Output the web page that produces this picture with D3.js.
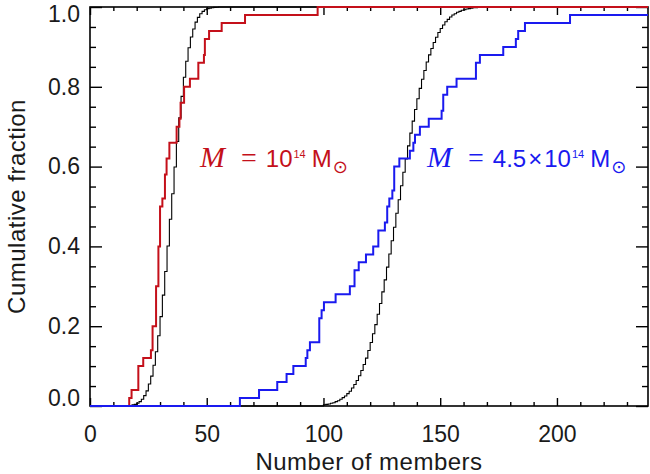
<!DOCTYPE html>
<html>
<head>
<meta charset="utf-8">
<script src="https://cdn.jsdelivr.net/npm/d3@7"></script>
<style>
  body { margin: 0; background: #fff; }
  svg { display: block; }
  text { font-family: "Liberation Sans", Arial, sans-serif; fill: #1a1a1a; }
</style>
</head>
<body>
<div id="chart"></div>
<script>
// ===== DATA =====

// observed cluster, M = 1e14 Msun : step positions and cumulative fraction
const redMembers  = [16.8, 17.8, 20.7, 22.8, 26.1, 26.8, 28.3, 29.3, 30, 31, 32.1, 32.8, 34,
                     37.1, 38.3, 38.8, 40.3, 42.8, 46.4, 48.8, 49.2, 51, 56.4, 66.4, 97.5];
const redFraction = [0.02, 0.04, 0.10, 0.12, 0.14, 0.20, 0.30, 0.40, 0.50, 0.52, 0.58, 0.62, 0.66,
                     0.70, 0.72, 0.76, 0.80, 0.82, 0.86, 0.88, 0.92, 0.94, 0.96, 0.98, 1.00];

// observed cluster, M = 4.5e14 Msun
const blueMembers  = [64.2, 72.4, 80.2, 84.2, 87.1, 92.4, 93.1, 94.2, 98.2, 99.2, 100.2, 105.2,
                      111.3, 113.3, 115.1, 118.2, 121.3, 123.5, 126.3, 127.3, 128.2, 129.5, 130.3,
                      132.5, 137, 138.5, 139.2, 141.3, 145.1, 150.6, 151.3, 153, 157, 165.3, 167,
                      177, 182.4, 183.4, 186.3, 205.6];
const blueFraction = [0.02, 0.04, 0.06, 0.08, 0.10, 0.12, 0.14, 0.16, 0.22, 0.24, 0.26, 0.28,
                      0.30, 0.34, 0.36, 0.38, 0.40, 0.44, 0.46, 0.50, 0.52, 0.54, 0.60,
                      0.62, 0.64, 0.66, 0.68, 0.70, 0.72, 0.74, 0.78, 0.80, 0.82, 0.86, 0.88,
                      0.90, 0.92, 0.94, 0.96, 0.98];

// model curves (thin black), one step per member
const modelLowMembers  = [18, 19, 20, 21, 22, 23, 24, 25, 26, 27, 28, 29, 30, 31, 32, 33, 34, 35,
                          36, 37, 38, 39, 40, 41, 42, 43, 44, 45, 46, 47, 48, 49, 50, 51, 52, 53, 54, 55];
const modelLowFraction = [0.003, 0.004, 0.007, 0.011, 0.017, 0.026, 0.038, 0.055, 0.075, 0.102,
                          0.136, 0.176, 0.224, 0.278, 0.337, 0.401, 0.468, 0.532, 0.599, 0.663,
                          0.722, 0.776, 0.824, 0.864, 0.898, 0.925, 0.945, 0.962, 0.974, 0.983,
                          0.989, 0.993, 0.996, 0.997, 0.998, 0.999, 0.9995, 1.0];

const modelHighMembers  = [100, 101, 102, 103, 104, 105, 106, 107, 108, 109, 110, 111, 112, 113,
                           114, 115, 116, 117, 118, 119, 120, 121, 122, 123, 124, 125, 126, 127,
                           128, 129, 130, 131, 132, 133, 134, 135, 136, 137, 138, 139, 140, 141,
                           142, 143, 144, 145, 146, 147, 148, 149, 150, 151, 152, 153, 154, 155,
                           156, 157, 158, 159, 160, 161, 162, 163, 164, 165, 166, 167, 168, 169,
                           170, 172];
const modelHighFraction = [0.003, 0.004, 0.005, 0.007, 0.008, 0.011, 0.013, 0.017, 0.021, 0.025,
                           0.031, 0.037, 0.045, 0.054, 0.064, 0.076, 0.089, 0.104, 0.120, 0.139,
                           0.159, 0.181, 0.204, 0.230, 0.257, 0.286, 0.316, 0.348, 0.381, 0.414,
                           0.448, 0.483, 0.517, 0.552, 0.586, 0.619, 0.652, 0.684, 0.714, 0.743,
                           0.770, 0.796, 0.819, 0.841, 0.862, 0.880, 0.896, 0.911, 0.924, 0.936,
                           0.946, 0.955, 0.963, 0.969, 0.975, 0.980, 0.983, 0.987, 0.989, 0.992,
                           0.993, 0.995, 0.996, 0.997, 0.998, 0.998, 0.999, 0.999, 0.9994, 0.9996,
                           0.9998, 1.0];

// ticks
const xMajorTicks = [0, 50, 100, 150, 200];
const xMinorTicks = [10, 20, 30, 40, 60, 70, 80, 90, 110, 120, 130, 140, 160, 170, 180, 190, 210, 220, 230];
const yMajorTicks = [0.0, 0.2, 0.4, 0.6, 0.8, 1.0];
const yMinorTicks = [0.05, 0.10, 0.15, 0.25, 0.30, 0.35, 0.45, 0.50, 0.55, 0.65, 0.70, 0.75, 0.85, 0.90, 0.95];

const RED = "#c4101a";
const BLUE = "#1a1aef";

// ===== SETUP =====
const width = 650, height = 474;
const plot = { left: 90, right: 648, top: 7, bottom: 406 };

const x = d3.scaleLinear().domain([0, 239]).range([plot.left, plot.right]);
const y = d3.scaleLinear().domain([0, 1]).range([plot.bottom, plot.top]);

const svg = d3.select("#chart").append("svg")
  .attr("width", width)
  .attr("height", height);

// ===== AXES (ticks inward on all four sides) =====
function tickAxis(axis, transform, values, size, labels) {
  const g = svg.append("g")
    .attr("transform", transform)
    .call(axis.tickValues(values).tickSize(size).tickFormat(labels || ""));
  g.select(".domain").remove();
  g.selectAll("line").attr("stroke", "#000").attr("stroke-width", 1.4);
  return g;
}

tickAxis(d3.axisBottom(x), `translate(0,${plot.bottom})`, xMinorTicks, -4);
const xg = tickAxis(d3.axisBottom(x).tickPadding(20), `translate(0,${plot.bottom})`,
  xMajorTicks, -8, d3.format("d"));
tickAxis(d3.axisTop(x), `translate(0,${plot.top})`, xMinorTicks, -4);
tickAxis(d3.axisTop(x), `translate(0,${plot.top})`, xMajorTicks, -8);

tickAxis(d3.axisLeft(y), `translate(${plot.left},0)`, yMinorTicks, -6);
const yg = tickAxis(d3.axisLeft(y).tickPadding(10), `translate(${plot.left},0)`,
  yMajorTicks, -12, d3.format(".1f"));
tickAxis(d3.axisRight(y), `translate(${plot.right},0)`, yMinorTicks, -6);
tickAxis(d3.axisRight(y), `translate(${plot.right},0)`, yMajorTicks, -12);

xg.selectAll("text").attr("font-size", 23).attr("font-family", null).attr("fill", "#1a1a1a");
yg.selectAll("text").attr("font-size", 23).attr("font-family", null).attr("fill", "#1a1a1a");
// end labels are pulled inside the frame
yg.selectAll(".tick text").filter(d => d === 1).attr("y", 7);
yg.selectAll(".tick text").filter(d => d === 0).attr("y", -8);

svg.append("rect")
  .attr("x", plot.left).attr("y", plot.top)
  .attr("width", plot.right - plot.left).attr("height", plot.bottom - plot.top)
  .attr("fill", "none").attr("stroke", "#000").attr("stroke-width", 1.6);

// axis titles
svg.append("text")
  .attr("x", (plot.left + plot.right) / 2).attr("y", 470)
  .attr("text-anchor", "middle").attr("font-size", 24)
  .attr("letter-spacing", 0.5)
  .text("Number of members");

svg.append("text")
  .attr("transform", `translate(25,${(plot.top + plot.bottom) / 2}) rotate(-90)`)
  .attr("text-anchor", "middle").attr("font-size", 24)
  .attr("letter-spacing", 0.5)
  .text("Cumulative fraction");

// ===== STEP CURVES =====
const step = d3.line()
  .x(d => x(d[0]))
  .y(d => y(d[1]))
  .curve(d3.curveStepAfter);

function drawCdf(members, fraction, color, widthPx) {
  const pts = [[0, 0]].concat(members.map((m, i) => [m, fraction[i]]));
  pts.push([239, fraction[fraction.length - 1]]);
  svg.append("path")
    .attr("d", step(pts))
    .attr("fill", "none")
    .attr("stroke", color)
    .attr("stroke-width", widthPx);
}

drawCdf(modelLowMembers, modelLowFraction, "#000", 1.1);
drawCdf(modelHighMembers, modelHighFraction, "#000", 1.1);
drawCdf(redMembers, redFraction, RED, 2);
drawCdf(blueMembers, blueFraction, BLUE, 2);

// ===== LABELS =====
function massLabel(x0, mantissa, color) {
  const t = svg.append("text").attr("x", x0).attr("y", 167).attr("fill", color);
  t.append("tspan").text("M")
    .attr("font-family", "'Liberation Serif', 'Times New Roman', serif")
    .attr("font-style", "italic").attr("font-size", 30).attr("fill", color);
  t.append("tspan").text("=").attr("dx", 16)
    .attr("font-family", "'Liberation Serif', serif").attr("font-size", 28).attr("fill", color);
  if (mantissa) {
    t.append("tspan").text(mantissa).attr("dx", 9).attr("font-size", 24).attr("fill", color);
    t.append("tspan").text("\u00d7").attr("dx", 2).attr("font-size", 24).attr("fill", color);
    t.append("tspan").text("10").attr("dx", 2).attr("font-size", 24).attr("fill", color);
  } else {
    t.append("tspan").text("10").attr("dx", 9).attr("font-size", 24).attr("fill", color);
  }
  t.append("tspan").text("14").attr("dx", 1).attr("dy", -9)
    .attr("font-size", 11).attr("fill", color);
  t.append("tspan").text("M").attr("dx", 6).attr("dy", 9)
    .attr("font-size", 24).attr("fill", color);
  t.append("tspan").text("\u2299").attr("dx", 1).attr("dy", 6)
    .attr("font-family", "'DejaVu Sans', sans-serif").attr("font-size", 18).attr("fill", color);
}

massLabel(200, "", RED);
massLabel(427, "4.5", BLUE);
</script>
</body>
</html>
